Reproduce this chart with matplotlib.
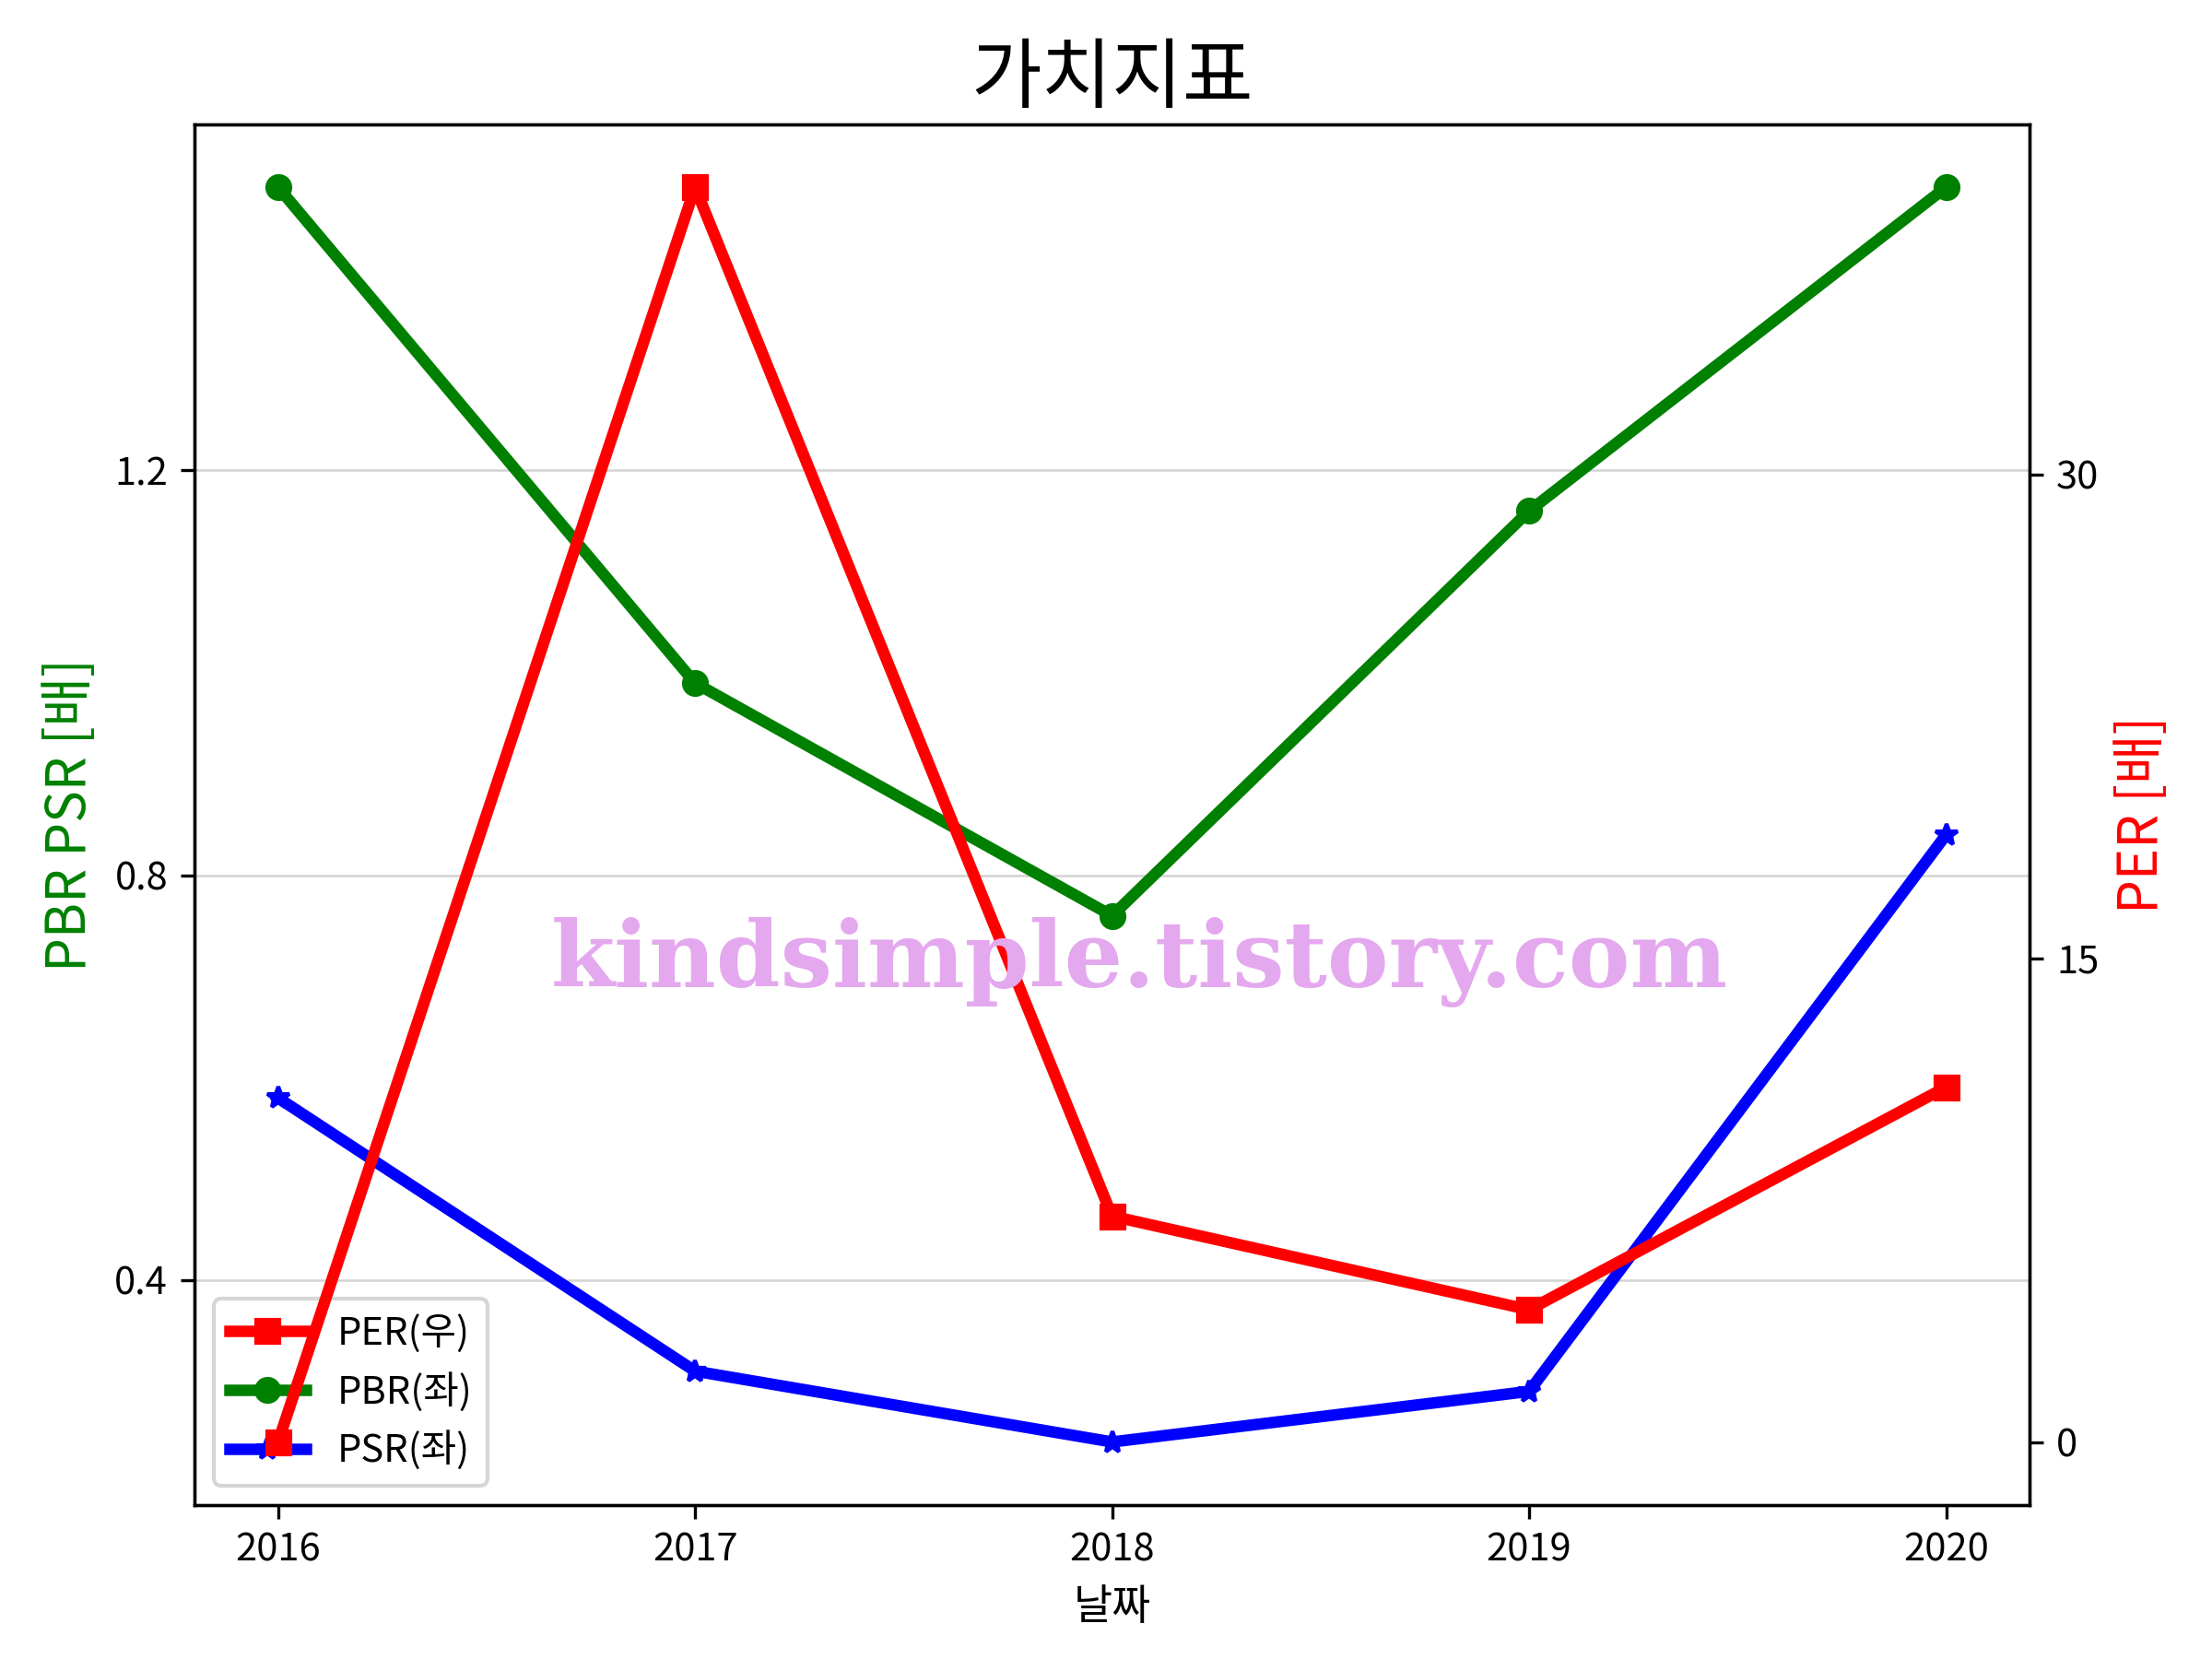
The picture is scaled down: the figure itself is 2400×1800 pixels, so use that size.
import matplotlib
matplotlib.use("Agg")
import matplotlib.pyplot as plt

plt.rcParams["font.family"] = ["Noto Sans CJK KR", "DejaVu Sans"]
plt.rcParams["axes.unicode_minus"] = False

# 연도별 가치지표
years = [2016, 2017, 2018, 2019, 2020]
per = [0.0, 38.9, 7.0, 4.1, 11.0]
pbr = [1.48, 0.99, 0.76, 1.16, 1.48]
psr = [0.58, 0.31, 0.24, 0.29, 0.84]

fig, ax1 = plt.subplots(figsize=(8, 6), dpi=300)
ax2 = ax1.twinx()

l_per, = ax2.plot(years, per, color="red", marker="s", linewidth=3, markersize=6, label="PER(우)")
l_pbr, = ax1.plot(years, pbr, color="green", marker="o", linewidth=3, markersize=6, label="PBR(좌)")
l_psr, = ax1.plot(years, psr, color="blue", marker="*", linewidth=3, markersize=6, label="PSR(좌)")

ax1.set_xticks(years)
ax1.set_yticks([0.4, 0.8, 1.2])
ax2.set_yticks([0, 15, 30])
ax1.grid(axis="y", color="lightgray", linewidth=0.6)

ax1.set_xlabel("날짜", fontsize=11)
ax1.set_ylabel("PBR PSR [배]", color="green", fontsize=14)
ax2.set_ylabel("PER [배]", color="red", fontsize=14)
ax1.set_title("가치지표", fontsize=20)

ax1.legend(handles=[l_per, l_pbr, l_psr], loc="lower left", fontsize=10)

fig.text(0.515, 0.42, "kindsimple.tistory.com", fontsize=24, color="#e4a8ee",
         family="DejaVu Serif", fontweight="bold", ha="center", va="center", zorder=10)

fig.subplots_adjust(left=0.088, right=0.9175, top=0.925, bottom=0.093)
fig.savefig("out.png", dpi=300)
